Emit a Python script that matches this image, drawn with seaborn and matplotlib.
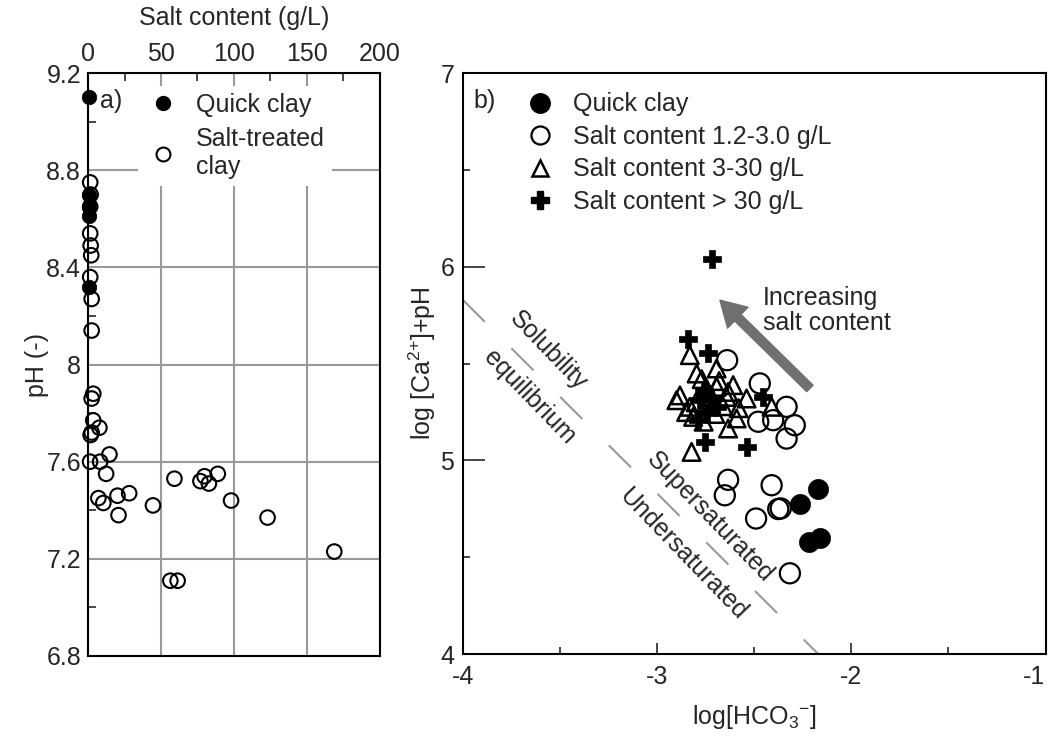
import matplotlib
matplotlib.use('Agg')
import matplotlib.pyplot as plt
import seaborn as sns
from matplotlib.lines import Line2D
from matplotlib.ticker import MultipleLocator, FormatStrFormatter

# a) pH against salt content
quick_salt = [1, 1, 1, 1, 1]
quick_ph = [9.10, 8.70, 8.65, 8.61, 8.32]
treated_salt = [1.5, 1.8, 1.5, 1.5, 1.8, 2.2, 1.5, 2.5, 2.5, 3.6, 2.5, 3.6, 7.8, 2.5, 1.8,
                14.7, 1.4, 8.3, 12.4, 7.1, 10.5, 20.2, 28.2, 20.9, 44.5, 59.2, 77, 79.8,
                82.8, 88.9, 98, 123, 168.7, 56.4, 61.4]
treated_ph = [8.75, 8.70, 8.65, 8.54, 8.49, 8.45, 8.36, 8.27, 8.14, 7.88, 7.86, 7.77, 7.74,
              7.72, 7.71, 7.63, 7.60, 7.60, 7.55, 7.45, 7.43, 7.46, 7.47, 7.38, 7.42, 7.53,
              7.52, 7.54, 7.51, 7.55, 7.44, 7.37, 7.23, 7.11, 7.11]

# b) log[Ca2+]+pH against log[HCO3-]
quick_hco3 = [-2.17, -2.265, -2.22, -2.16]
quick_ca = [4.855, 4.774, 4.58, 4.597]
low_hco3 = [-2.41, -2.376, -2.363, -2.49, -2.316, -2.634, -2.651, -2.639, -2.471, -2.333,
            -2.479, -2.402, -2.291, -2.333]
low_ca = [4.872, 4.749, 4.752, 4.70, 4.417, 4.90, 4.82, 5.518, 5.398, 5.277, 5.20, 5.208,
          5.182, 5.113]
mid_hco3 = [-2.831, -2.796, -2.693, -2.882, -2.90, -2.831, -2.608, -2.634, -2.539, -2.693,
            -2.745, -2.59, -2.634, -2.814, -2.822, -2.41, -2.642, -2.77, -2.72, -2.85,
            -2.66, -2.76, -2.70, -2.80, -2.58, -2.68]
mid_ca = [5.544, 5.449, 5.475, 5.336, 5.311, 5.277, 5.389, 5.354, 5.32, 5.38, 5.37, 5.217,
          5.165, 5.225, 5.044, 5.277, 5.328, 5.42, 5.33, 5.25, 5.28, 5.20, 5.24, 5.30,
          5.27, 5.41]
high_hco3 = [-2.719, -2.839, -2.737, -2.454, -2.754, -2.539, -2.779, -2.693, -2.745, -2.788,
             -2.72, -2.76]
high_ca = [6.043, 5.625, 5.556, 5.328, 5.096, 5.07, 5.311, 5.277, 5.243, 5.208, 5.32, 5.36]

# solubility equilibrium line
eq_hco3 = [-4.0, -2.17]
eq_ca = [5.83, 4.0]

FS = 18

sns.set_style('ticks')
plt.rcParams['font.family'] = ['Liberation Sans', 'DejaVu Sans']
plt.rcParams['font.size'] = FS
plt.rcParams['axes.linewidth'] = 1.5
plt.rcParams['axes.unicode_minus'] = False

fig = plt.figure(figsize=(10.54, 7.36), dpi=100)
ax1 = fig.add_axes([0.0835, 0.1087, 0.277, 0.792])
ax2 = fig.add_axes([0.439, 0.1114, 0.553, 0.789])

# ---- panel a
ax1.grid(True, color='#999999', lw=1.5)
ax1.set_axisbelow(True)
sns.scatterplot(x=quick_salt, y=quick_ph, ax=ax1, color='black', edgecolor='black',
                s=110, linewidth=0.5, clip_on=False, zorder=3)
sns.scatterplot(x=treated_salt, y=treated_ph, ax=ax1, facecolors='none', edgecolor='black',
                s=110, linewidth=1.5, clip_on=False, zorder=3)
ax1.set_xlim(0, 200)
ax1.set_ylim(6.8, 9.2)
ax1.xaxis.tick_top()
ax1.xaxis.set_label_position('top')
ax1.set_xticks([0, 50, 100, 150, 200])
ax1.set_yticks([6.8, 7.2, 7.6, 8.0, 8.4, 8.8, 9.2])
ax1.yaxis.set_major_formatter(FormatStrFormatter('%g'))
ax1.xaxis.set_minor_locator(MultipleLocator(25))
ax1.yaxis.set_minor_locator(MultipleLocator(0.2))
ax1.tick_params(which='major', length=0, pad=5, labelsize=FS)
ax1.tick_params(which='minor', direction='in', length=6, width=1.2)
ax1.tick_params(axis='x', which='both', top=True, bottom=False)
ax1.tick_params(axis='y', which='both', left=True, right=False)
ax1.set_xlabel('Salt content (g/L)', fontsize=FS, labelpad=12)
ax1.set_ylabel('pH (-)', fontsize=FS, labelpad=-2)
for sp in ax1.spines.values():
    sp.set_color('black')
ax1.text(0.04, 0.952, 'a)', transform=ax1.transAxes, ha='left', va='center', fontsize=FS)

h1 = [Line2D([], [], marker='o', ls='none', color='black', markersize=10),
      Line2D([], [], marker='o', ls='none', mfc='none', mec='black', mew=1.5, markersize=10)]
leg1 = ax1.legend(h1, ['Quick clay', 'Salt-treated\nclay'], loc='upper left',
                  bbox_to_anchor=(0.129, 1.0), frameon=True, fancybox=False,
                  facecolor='white', edgecolor='none', framealpha=1, fontsize=FS,
                  handlelength=1.4, handletextpad=0.6, borderpad=0.3, labelspacing=0.4)
leg1.set_zorder(4)

# ---- panel b
ax2.plot(eq_hco3, eq_ca, color='#999999', lw=1.5, ls=(0, (15, 18)), zorder=1)
sns.scatterplot(x=mid_hco3, y=mid_ca, ax=ax2, marker='^', facecolors='none',
                edgecolor='black', s=160, linewidth=1.8, zorder=3)
sns.scatterplot(x=low_hco3, y=low_ca, ax=ax2, facecolors='none', edgecolor='black',
                s=210, linewidth=1.6, zorder=3)
sns.scatterplot(x=high_hco3, y=high_ca, ax=ax2, marker='P', color='black',
                edgecolor='black', s=180, linewidth=0.5, zorder=4)
sns.scatterplot(x=quick_hco3, y=quick_ca, ax=ax2, color='black', edgecolor='black',
                s=210, linewidth=0.5, zorder=4)

ax2.annotate('', xy=(-2.676, 5.828), xytext=(-2.213, 5.372),
             arrowprops=dict(color='#707070', width=6.5, headwidth=21, headlength=18,
                             shrink=0))
ax2.text(-2.455, 5.776, 'Increasing\nsalt content', ha='left', va='center', fontsize=FS,
         linespacing=1.05)
ax2.text(-3.559, 5.565, 'Solubility', rotation=-46, rotation_mode='anchor',
         ha='center', va='center', fontsize=FS)
ax2.text(-3.654, 5.327, 'equilibrium', rotation=-46, rotation_mode='anchor',
         ha='center', va='center', fontsize=FS)
ax2.text(-2.727, 4.707, 'Supersaturated', rotation=-46, rotation_mode='anchor',
         ha='center', va='center', fontsize=FS)
ax2.text(-2.867, 4.516, 'Undersaturated', rotation=-46, rotation_mode='anchor',
         ha='center', va='center', fontsize=FS)
ax2.text(0.018, 0.953, 'b)', transform=ax2.transAxes, ha='left', va='center', fontsize=FS)

ax2.set_xlim(-4, -1)
ax2.set_ylim(4, 7)
ax2.set_xticks([-4, -3, -2, -1])
ax2.set_yticks([4, 5, 6, 7])
ax2.xaxis.set_minor_locator(MultipleLocator(0.5))
ax2.yaxis.set_minor_locator(MultipleLocator(0.5))
ax2.tick_params(which='both', direction='in', width=1.2, labelsize=FS, top=False, right=False)
ax2.tick_params(axis='x', which='major', length=8, pad=8)
ax2.tick_params(axis='y', which='major', length=16, pad=6)
ax2.tick_params(which='minor', length=5)
ax2.set_xlabel('log[HCO$\\mathregular{_3}$$\\mathregular{^{-}}$]', fontsize=FS, labelpad=10)
ax2.set_ylabel('log [Ca$\\mathregular{^{2{+}}}$]+pH', fontsize=FS, labelpad=2)
for sp in ax2.spines.values():
    sp.set_color('black')
# keep the last tick label inside the figure
ax2.get_xticklabels()[-1].set_horizontalalignment('right')

h2 = [Line2D([], [], marker='o', ls='none', color='black', markersize=14),
      Line2D([], [], marker='o', ls='none', mfc='none', mec='black', mew=1.6, markersize=13),
      Line2D([], [], marker='^', ls='none', mfc='none', mec='black', mew=1.8, markersize=11),
      Line2D([], [], marker='P', ls='none', color='black', markersize=13)]
ax2.legend(h2, ['Quick clay', 'Salt content 1.2-3.0 g/L', 'Salt content 3-30 g/L',
                'Salt content > 30 g/L'], loc='upper left', bbox_to_anchor=(0.072, 1.006),
           frameon=False, fontsize=FS, handlelength=1.0, handletextpad=0.82,
           borderpad=0.4, labelspacing=0.34)

fig.savefig('out.png', dpi=100)
